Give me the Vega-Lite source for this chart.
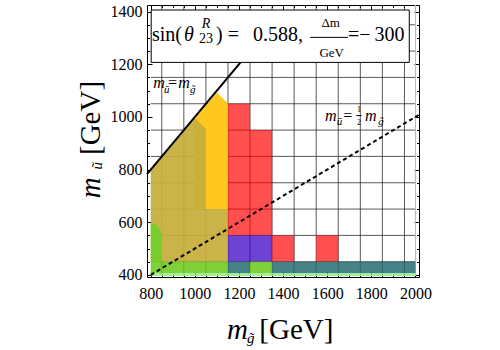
{
 "$schema": "https://vega.github.io/schema/vega-lite/v6.json",
 "width": 272,
 "height": 272,
 "autosize": "none",
 "padding": {"left": 147, "top": 5, "right": 81, "bottom": 73},
 "background": "white",
 "config": {"view": {"stroke": "black", "strokeWidth": 1}, "font": "Liberation Serif", "axis": {"labelFont": "Liberation Serif", "labelFontSize": 16, "labelColor": "black"}},
 "resolve": {"axis": {"x": "independent", "y": "independent"}},
 "layer": [
  {
   "data": {"values": [{"gx":850},{"gx":950},{"gx":1050},{"gx":1150},{"gx":1250},{"gx":1350},{"gx":1450},{"gx":1550},{"gx":1650},{"gx":1750},{"gx":1850},{"gx":1950}]},
   "mark": {"type": "rule", "color": "#222222", "strokeWidth": 1, "opacity": 0.75},
   "encoding": {
    "x": {"field": "gx", "type": "quantitative", "scale": {"domain": [783, 2016], "nice": false, "zero": false},
     "axis": {"orient": "bottom", "values": [800,850,900,950,1000,1050,1100,1150,1200,1250,1300,1350,1400,1450,1500,1550,1600,1650,1700,1750,1800,1850,1900,1950,2000],
      "format": "d", "labelExpr": "datum.value % 200 === 0 ? datum.label : ''",
      "tickSize": {"condition": {"test": "datum.value % 200 === 0", "value": -5}, "value": -2.5},
      "tickColor": "black", "tickWidth": 1, "domain": false, "grid": false, "title": null,
      "labelFont": "Liberation Serif", "labelFontSize": 16, "labelColor": "black", "labelPadding": 13,
      "labelFlush": false, "labelOverlap": false, "labelBound": false}},
    "y": {"datum": 396, "type": "quantitative", "scale": {"domain": [392, 1425], "nice": false, "zero": false}, "axis": null},
    "y2": {"datum": 1425}
   }
  },
  {
   "data": {"values": [{"gy":450},{"gy":550},{"gy":650},{"gy":750},{"gy":850},{"gy":950},{"gy":1050},{"gy":1150},{"gy":1250},{"gy":1350}]},
   "mark": {"type": "rule", "color": "#222222", "strokeWidth": 1, "opacity": 0.75},
   "encoding": {
    "y": {"field": "gy", "type": "quantitative", "scale": {"domain": [392, 1425], "nice": false, "zero": false},
     "axis": {"orient": "left", "values": [400,450,500,550,600,650,700,750,800,850,900,950,1000,1050,1100,1150,1200,1250,1300,1350,1400],
      "format": "d", "labelExpr": "datum.value % 200 === 0 ? datum.label : ''",
      "tickSize": {"condition": {"test": "datum.value % 200 === 0", "value": -5}, "value": -2.5},
      "tickColor": "black", "tickWidth": 1, "domain": false, "grid": false, "title": null,
      "labelFont": "Liberation Serif", "labelFontSize": 16, "labelColor": "black", "labelPadding": 10,
      "labelFlush": false, "labelOverlap": false, "labelBound": false}},
    "x": {"datum": 800, "type": "quantitative", "scale": {"domain": [783, 2016], "nice": false, "zero": false}, "axis": null},
    "x2": {"datum": 2000}
   }
  },
  {
   "data": {"values": [{"gx":2000}]},
   "mark": {"type": "rule", "color": "#bbbbbb", "strokeWidth": 1},
   "encoding": {
    "x": {"field": "gx", "type": "quantitative", "scale": {"domain": [783, 2016], "nice": false, "zero": false}, "axis": null},
    "y": {"datum": 396, "type": "quantitative", "scale": {"domain": [392, 1425], "nice": false, "zero": false}, "axis": null},
    "y2": {"datum": 1425}
   }
  },
  {
   "data": {"values": [{"x":1000,"y":995,"y2":650},{"x":1100,"y":1092,"y2":650},{"x":1150,"y":1052,"y2":650}]},
   "mark": {"type": "area", "color": "#ffc81e", "opacity": 1},
   "encoding": {
    "x": {"field": "x", "type": "quantitative", "scale": {"domain": [783, 2016], "nice": false, "zero": false}, "axis": null},
    "y": {"field": "y", "type": "quantitative", "scale": {"domain": [392, 1425], "nice": false, "zero": false}, "axis": null},
    "y2": {"field": "y2"}
   }
  },
  {
   "data": {"values": [{"x":800,"y":797,"y2":450},{"x":1000,"y":995,"y2":450},{"x":1050,"y":955,"y2":450},{"x":1050.01,"y":650,"y2":450},{"x":1150,"y":650,"y2":450}]},
   "mark": {"type": "area", "color": "#c6ad3a", "opacity": 0.93},
   "encoding": {
    "x": {"field": "x", "type": "quantitative", "scale": {"domain": [783, 2016], "nice": false, "zero": false}, "axis": null},
    "y": {"field": "y", "type": "quantitative", "scale": {"domain": [392, 1425], "nice": false, "zero": false}, "axis": null},
    "y2": {"field": "y2"}
   }
  },
  {
   "data": {"values": [{"x":800,"y":596,"y2":450},{"x":818,"y":594,"y2":450},{"x":832,"y":585,"y2":450},{"x":842,"y":570,"y2":450},{"x":848,"y":552,"y2":450},{"x":850,"y":535,"y2":450}]},
   "mark": {"type": "area", "color": "#78cd2d", "opacity": 1},
   "encoding": {
    "x": {"field": "x", "type": "quantitative", "scale": {"domain": [783, 2016], "nice": false, "zero": false}, "axis": null},
    "y": {"field": "y", "type": "quantitative", "scale": {"domain": [392, 1425], "nice": false, "zero": false}, "axis": null},
    "y2": {"field": "y2"}
   }
  },
  {
   "data": {"values": [
    {"x":1150,"x2":1250,"y":550,"y2":1050,"k":"red"},
    {"x":1250,"x2":1350,"y":550,"y2":950,"k":"red"},
    {"x":1350,"x2":1450,"y":450,"y2":550,"k":"red"},
    {"x":1550,"x2":1650,"y":450,"y2":550,"k":"red"},
    {"x":1150,"x2":1250,"y":450,"y2":550,"k":"purple"},
    {"x":1250,"x2":1350,"y":450,"y2":550,"k":"purple"},
    {"x":1150,"x2":1250,"y":406,"y2":450,"k":"teal"},
    {"x":1350,"x2":1450,"y":406,"y2":450,"k":"teal"},
    {"x":1450,"x2":1550,"y":406,"y2":450,"k":"teal"},
    {"x":1550,"x2":1650,"y":406,"y2":450,"k":"teal"},
    {"x":1650,"x2":1750,"y":406,"y2":450,"k":"teal"},
    {"x":1750,"x2":1850,"y":406,"y2":450,"k":"teal"},
    {"x":1850,"x2":1950,"y":406,"y2":450,"k":"teal"},
    {"x":1950,"x2":2000,"y":406,"y2":450,"k":"teal"},
    {"x":800,"x2":850,"y":406,"y2":450,"k":"green"},
    {"x":850,"x2":950,"y":406,"y2":450,"k":"green"},
    {"x":950,"x2":1050,"y":406,"y2":450,"k":"green"},
    {"x":1050,"x2":1150,"y":406,"y2":450,"k":"green"},
    {"x":1250,"x2":1350,"y":406,"y2":450,"k":"green"},
    {"x":800,"x2":2000,"y":396,"y2":406,"k":"lightgreen"}
   ]},
   "mark": {"type": "rect"},
   "encoding": {
    "x": {"field": "x", "type": "quantitative", "scale": {"domain": [783, 2016], "nice": false, "zero": false}, "axis": null},
    "x2": {"field": "x2"},
    "y": {"field": "y", "type": "quantitative", "scale": {"domain": [392, 1425], "nice": false, "zero": false}, "axis": null},
    "y2": {"field": "y2"},
    "color": {"field": "k", "type": "nominal", "legend": null,
     "scale": {"domain": ["red","purple","teal","green","lightgreen"], "range": ["#ff0000","#3c00c2","#166369","#69c716","#94ee8c"]}},
    "opacity": {"field": "k", "type": "nominal", "legend": null,
     "scale": {"domain": ["red","purple","teal","green","lightgreen"], "range": [0.69,0.9,0.9,0.9,1]}}
   }
  },
  {
   "data": {"values": [{"x":783,"y":783},{"x":1207,"y":1207}]},
   "mark": {"type": "line", "color": "black", "strokeWidth": 2},
   "encoding": {
    "x": {"field": "x", "type": "quantitative", "scale": {"domain": [783, 2016], "nice": false, "zero": false}, "axis": null},
    "y": {"field": "y", "type": "quantitative", "scale": {"domain": [392, 1425], "nice": false, "zero": false}, "axis": null}
   }
  },
  {
   "data": {"values": [{"x":800,"y":400},{"x":2016,"y":1008}]},
   "mark": {"type": "line", "color": "black", "strokeWidth": 2, "strokeDash": [4, 3]},
   "encoding": {
    "x": {"field": "x", "type": "quantitative", "scale": {"domain": [783, 2016], "nice": false, "zero": false}, "axis": null},
    "y": {"field": "y", "type": "quantitative", "scale": {"domain": [392, 1425], "nice": false, "zero": false}, "axis": null}
   }
  },
  {
   "data": {"values": [{"bx":802,"bx2":1972,"by":1207,"by2":1406}]},
   "mark": {"type": "rect", "fill": "white", "stroke": "black", "strokeWidth": 1},
   "encoding": {
    "x": {"field": "bx", "type": "quantitative", "scale": {"domain": [783, 2016], "nice": false, "zero": false},
     "axis": {"orient": "top", "values": [800,850,900,950,1000,1050,1100,1150,1200,1250,1300,1350,1400,1450,1500,1550,1600,1650,1700,1750,1800,1850,1900,1950,2000],
      "labels": false, "tickSize": {"condition": {"test": "datum.value % 200 === 0", "value": -5}, "value": -2.5},
      "tickColor": "black", "tickWidth": 1, "domain": false, "grid": false, "title": null}},
    "x2": {"field": "bx2"},
    "y": {"field": "by", "type": "quantitative", "scale": {"domain": [392, 1425], "nice": false, "zero": false},
     "axis": {"orient": "right", "values": [400,450,500,550,600,650,700,750,800,850,900,950,1000,1050,1100,1150,1200,1250,1300,1350,1400],
      "labels": false, "tickSize": {"condition": {"test": "datum.value % 200 === 0", "value": -5}, "value": -2.5},
      "tickColor": "black", "tickWidth": 1, "domain": false, "grid": false, "title": null}},
    "y2": {"field": "by2"}
   }
  },
  {
   "data": {"values": [{"x":1522,"x2":1694,"y":1302},{"x":1732,"x2":1756,"y":1005}]},
   "mark": {"type": "rule", "color": "black", "strokeWidth": 1},
   "encoding": {
    "x": {"field": "x", "type": "quantitative", "scale": {"domain": [783, 2016], "nice": false, "zero": false}, "axis": null},
    "x2": {"field": "x2"},
    "y": {"field": "y", "type": "quantitative", "scale": {"domain": [392, 1425], "nice": false, "zero": false}, "axis": null}
   }
  },
  {
   "data": {"values": [{"x":805.7,"y":1289.4,"t":"sin("},{"x":1095.8,"y":1289.4,"t":") ="},{"x":1263.5,"y":1289.4,"t":"0.588,"},{"x":1694,"y":1289.4,"t":"=−\u2009300"}]},
   "mark": {"type": "text", "font": "Liberation Serif", "fontSize": 20, "align": "left", "baseline": "alphabetic", "color": "black"},
   "encoding": {
    "x": {"field": "x", "type": "quantitative", "scale": {"domain": [783, 2016], "nice": false, "zero": false}, "axis": null},
    "y": {"field": "y", "type": "quantitative", "scale": {"domain": [392, 1425], "nice": false, "zero": false}, "axis": null},
    "text": {"field": "t", "type": "nominal"}
   }
  },
  {
   "data": {"values": [{"x":950.7,"y":1289.4,"t":"θ"}]},
   "mark": {"type": "text", "font": "Liberation Serif", "fontSize": 20, "fontStyle": "italic", "align": "left", "baseline": "alphabetic", "color": "black"},
   "encoding": {
    "x": {"field": "x", "type": "quantitative", "scale": {"domain": [783, 2016], "nice": false, "zero": false}, "axis": null},
    "y": {"field": "y", "type": "quantitative", "scale": {"domain": [392, 1425], "nice": false, "zero": false}, "axis": null},
    "text": {"field": "t", "type": "nominal"}
   }
  },
  {
   "data": {"values": [{"x":1031,"y":1336.5,"t":"R"}]},
   "mark": {"type": "text", "font": "Liberation Serif", "fontSize": 14, "fontStyle": "italic", "align": "left", "baseline": "alphabetic", "color": "black"},
   "encoding": {
    "x": {"field": "x", "type": "quantitative", "scale": {"domain": [783, 2016], "nice": false, "zero": false}, "axis": null},
    "y": {"field": "y", "type": "quantitative", "scale": {"domain": [392, 1425], "nice": false, "zero": false}, "axis": null},
    "text": {"field": "t", "type": "nominal"}
   }
  },
  {
   "data": {"values": [{"x":1018.7,"y":1279,"t":"23"}]},
   "mark": {"type": "text", "font": "Liberation Serif", "fontSize": 14, "align": "left", "baseline": "alphabetic", "color": "black"},
   "encoding": {
    "x": {"field": "x", "type": "quantitative", "scale": {"domain": [783, 2016], "nice": false, "zero": false}, "axis": null},
    "y": {"field": "y", "type": "quantitative", "scale": {"domain": [392, 1425], "nice": false, "zero": false}, "axis": null},
    "text": {"field": "t", "type": "nominal"}
   }
  },
  {
   "data": {"values": [{"x":1615.7,"y":1342.6,"t":"Δm"},{"x":1620,"y":1228.7,"t":"GeV"}]},
   "mark": {"type": "text", "font": "Liberation Serif", "fontSize": 13, "align": "center", "baseline": "alphabetic", "color": "black"},
   "encoding": {
    "x": {"field": "x", "type": "quantitative", "scale": {"domain": [783, 2016], "nice": false, "zero": false}, "axis": null},
    "y": {"field": "y", "type": "quantitative", "scale": {"domain": [392, 1425], "nice": false, "zero": false}, "axis": null},
    "text": {"field": "t", "type": "nominal"}
   }
  },
  {
   "data": {"values": [{"x":811.6,"y":1108.6,"t":"m"},{"x":925,"y":1108.6,"t":"m"},{"x":1590,"y":985.6,"t":"m"},{"x":1771,"y":985.6,"t":"m"}]},
   "mark": {"type": "text", "font": "Liberation Serif", "fontSize": 16, "fontStyle": "italic", "align": "left", "baseline": "alphabetic", "color": "black"},
   "encoding": {
    "x": {"field": "x", "type": "quantitative", "scale": {"domain": [783, 2016], "nice": false, "zero": false}, "axis": null},
    "y": {"field": "y", "type": "quantitative", "scale": {"domain": [392, 1425], "nice": false, "zero": false}, "axis": null},
    "text": {"field": "t", "type": "nominal"}
   }
  },
  {
   "data": {"values": [{"x":878,"y":1108.6,"t":"="},{"x":1673,"y":985.6,"t":"="}]},
   "mark": {"type": "text", "font": "Liberation Serif", "fontSize": 16, "align": "left", "baseline": "alphabetic", "color": "black"},
   "encoding": {
    "x": {"field": "x", "type": "quantitative", "scale": {"domain": [783, 2016], "nice": false, "zero": false}, "axis": null},
    "y": {"field": "y", "type": "quantitative", "scale": {"domain": [392, 1425], "nice": false, "zero": false}, "axis": null},
    "text": {"field": "t", "type": "nominal"}
   }
  },
  {
   "data": {"values": [{"x":860,"y":1089.6,"t":"ũ"},{"x":978,"y":1092,"t":"g̃"},{"x":1643,"y":969,"t":"ũ"},{"x":1831.5,"y":969,"t":"g̃"}]},
   "mark": {"type": "text", "font": "Liberation Serif", "fontSize": 11, "fontStyle": "italic", "align": "left", "baseline": "alphabetic", "color": "black"},
   "encoding": {
    "x": {"field": "x", "type": "quantitative", "scale": {"domain": [783, 2016], "nice": false, "zero": false}, "axis": null},
    "y": {"field": "y", "type": "quantitative", "scale": {"domain": [392, 1425], "nice": false, "zero": false}, "axis": null},
    "text": {"field": "t", "type": "nominal"}
   }
  },
  {
   "data": {"values": [{"x":1744,"y":1019.8,"t":"1"},{"x":1744,"y":969,"t":"2"}]},
   "mark": {"type": "text", "font": "Liberation Serif", "fontSize": 8, "align": "center", "baseline": "alphabetic", "color": "black"},
   "encoding": {
    "x": {"field": "x", "type": "quantitative", "scale": {"domain": [783, 2016], "nice": false, "zero": false}, "axis": null},
    "y": {"field": "y", "type": "quantitative", "scale": {"domain": [392, 1425], "nice": false, "zero": false}, "axis": null},
    "text": {"field": "t", "type": "nominal"}
   }
  },
  {
   "data": {"values": [{"x":1145.6,"y":155.4,"t":"m"}]},
   "mark": {"type": "text", "font": "Liberation Serif", "fontSize": 29, "fontStyle": "italic", "align": "left", "baseline": "alphabetic", "color": "black"},
   "encoding": {
    "x": {"field": "x", "type": "quantitative", "scale": {"domain": [783, 2016], "nice": false, "zero": false}, "axis": null},
    "y": {"field": "y", "type": "quantitative", "scale": {"domain": [392, 1425], "nice": false, "zero": false}, "axis": null},
    "text": {"field": "t", "type": "nominal"}
   }
  },
  {
   "data": {"values": [{"x":1236,"y":142.4,"t":"g̃"}]},
   "mark": {"type": "text", "font": "Liberation Serif", "fontSize": 15, "fontStyle": "italic", "align": "left", "baseline": "alphabetic", "color": "black"},
   "encoding": {
    "x": {"field": "x", "type": "quantitative", "scale": {"domain": [783, 2016], "nice": false, "zero": false}, "axis": null},
    "y": {"field": "y", "type": "quantitative", "scale": {"domain": [392, 1425], "nice": false, "zero": false}, "axis": null},
    "text": {"field": "t", "type": "nominal"}
   }
  },
  {
   "data": {"values": [{"x":1292,"y":155.4,"t":"[GeV]"}]},
   "mark": {"type": "text", "font": "Liberation Serif", "fontSize": 29, "align": "left", "baseline": "alphabetic", "color": "black"},
   "encoding": {
    "x": {"field": "x", "type": "quantitative", "scale": {"domain": [783, 2016], "nice": false, "zero": false}, "axis": null},
    "y": {"field": "y", "type": "quantitative", "scale": {"domain": [392, 1425], "nice": false, "zero": false}, "axis": null},
    "text": {"field": "t", "type": "nominal"}
   }
  },
  {
   "data": {"values": [{"x":570,"y":690.8,"t":"m"}]},
   "mark": {"type": "text", "font": "Liberation Serif", "fontSize": 29, "fontStyle": "italic", "align": "left", "baseline": "alphabetic", "angle": 270, "color": "black"},
   "encoding": {
    "x": {"field": "x", "type": "quantitative", "scale": {"domain": [783, 2016], "nice": false, "zero": false}, "axis": null},
    "y": {"field": "y", "type": "quantitative", "scale": {"domain": [392, 1425], "nice": false, "zero": false}, "axis": null},
    "text": {"field": "t", "type": "nominal"}
   }
  },
  {
   "data": {"values": [{"x":580,"y":800,"t":"ũ"}]},
   "mark": {"type": "text", "font": "Liberation Serif", "fontSize": 15, "fontStyle": "italic", "align": "left", "baseline": "alphabetic", "angle": 270, "color": "black"},
   "encoding": {
    "x": {"field": "x", "type": "quantitative", "scale": {"domain": [783, 2016], "nice": false, "zero": false}, "axis": null},
    "y": {"field": "y", "type": "quantitative", "scale": {"domain": [392, 1425], "nice": false, "zero": false}, "axis": null},
    "text": {"field": "t", "type": "nominal"}
   }
  },
  {
   "data": {"values": [{"x":570,"y":855.3,"t":"[GeV]"}]},
   "mark": {"type": "text", "font": "Liberation Serif", "fontSize": 29, "align": "left", "baseline": "alphabetic", "angle": 270, "color": "black"},
   "encoding": {
    "x": {"field": "x", "type": "quantitative", "scale": {"domain": [783, 2016], "nice": false, "zero": false}, "axis": null},
    "y": {"field": "y", "type": "quantitative", "scale": {"domain": [392, 1425], "nice": false, "zero": false}, "axis": null},
    "text": {"field": "t", "type": "nominal"}
   }
  }
 ]
}
